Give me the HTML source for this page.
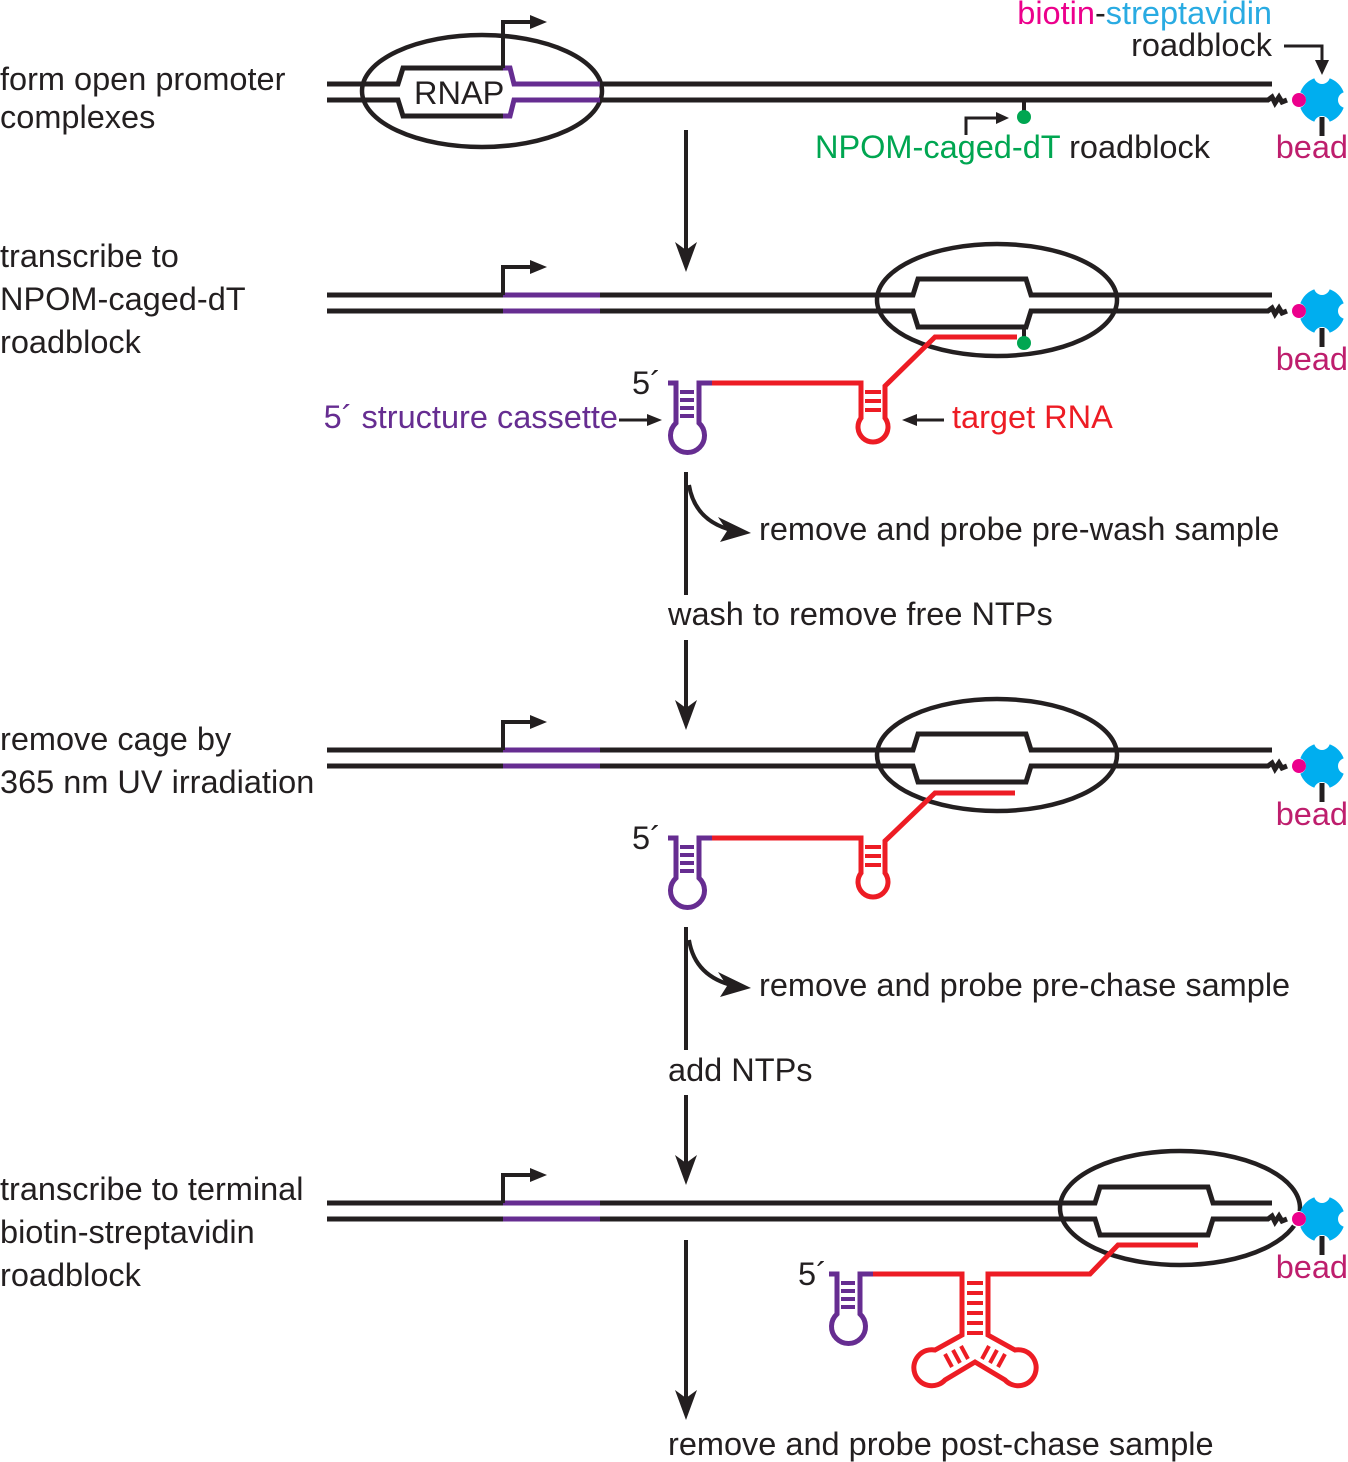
<!DOCTYPE html>
<html><head><meta charset="utf-8"><style>
html,body{margin:0;padding:0;background:#fff}
svg{display:block}
text{font-family:"Liberation Sans",Arial,sans-serif;font-size:32.5px;fill:#231f20}
</style></head><body>
<svg width="1348" height="1462" viewBox="0 0 1348 1462" xmlns="http://www.w3.org/2000/svg">
<defs>
<g id="bead">
 <circle cx="0" cy="0" r="23" fill="#00aeef"/>
 <circle cx="0" cy="-24" r="8" fill="#fff"/>
 <circle cx="24" cy="0" r="8" fill="#fff"/>
 <circle cx="0" cy="24" r="8" fill="#fff"/>
 <circle cx="-24" cy="0" r="8" fill="#fff"/>
 <circle cx="-23" cy="0" r="7" fill="#ec008c"/>
 <line x1="0" y1="17" x2="0" y2="36" stroke="#231f20" stroke-width="5"/>
</g>
<g id="hpP" fill="none" stroke="#662d91" stroke-width="5">
 <path d="M668,0 H676 V40 A17,17 0 1 0 699,40 V0 H712"/>
 <g stroke-width="4"><line x1="680" y1="9" x2="694" y2="9"/><line x1="680" y1="17" x2="694" y2="17"/><line x1="680" y1="25" x2="694" y2="25"/><line x1="680" y1="33" x2="694" y2="33"/></g>
</g>
</defs>

<g fill="none" stroke="#231f20" stroke-width="5">
<path d="M327,84 H398 L403,68 H503"/>
<path d="M327,100 H398 L403,116 H503"/>
<path d="M600,84 H1272"/>
<path d="M600,100 H1268 l4,-3 l3,6 l4,-6 l3,5 l5,-2"/>
<ellipse cx="482" cy="91" rx="120" ry="56" stroke-width="4.5"/>
</g>
<path d="M503,68 H510 L514,84 H600 M503,116 H510 L514,100 H600" fill="none" stroke="#662d91" stroke-width="5"/>
<path d="M503,68 V22 H535" fill="none" stroke="#231f20" stroke-width="4"/><path d="M530,15 L547,22 L530,29 Z" fill="#231f20"/>
<text x="414" y="104">RNAP</text>
<use href="#bead" x="1322" y="100"/>
<line x1="1024" y1="100" x2="1024" y2="117" stroke="#231f20" stroke-width="4"/><circle cx="1024" cy="117" r="7" fill="#00a651"/>
<path d="M966,135 V118 H1000" fill="none" stroke="#231f20" stroke-width="3"/><path d="M996,112 L1009,118 L996,124 Z" fill="#231f20"/>
<text x="1272" y="24" text-anchor="end"><tspan style="fill:#ec008c">biotin</tspan><tspan>-</tspan><tspan style="fill:#29abe2">streptavidin</tspan></text>
<text x="1272" y="56" text-anchor="end">roadblock</text>
<path d="M1284,46 H1322 V64" fill="none" stroke="#231f20" stroke-width="3"/><path d="M1315,60 L1322,75 L1329,60 Z" fill="#231f20"/>
<text x="1210" y="158" text-anchor="end"><tspan style="fill:#00a651">NPOM-caged-dT</tspan> roadblock</text>
<text x="1348" y="158" text-anchor="end" style="fill:#be1e6d">bead</text>
<text x="0" y="90">form open promoter</text>
<text x="0" y="128">complexes</text>
<line x1="686" y1="130" x2="686" y2="262" stroke="#231f20" stroke-width="4"/><path d="M675,242 L686,272 L697,242 L686,250 Z" fill="#231f20"/>

<!-- Panel 2 -->
<g fill="none" stroke="#231f20" stroke-width="5">
<path d="M327,295 H913 L918,279 H1026 L1031,295 H1272"/>
<path d="M327,311 H913 L918,327 H1026 L1031,311 H1268 l4,-3 l3,6 l4,-6 l3,5 l5,-2"/>
<ellipse cx="997" cy="300" rx="120" ry="56" stroke-width="4.5"/>
<line x1="1024" y1="327" x2="1024" y2="342" stroke-width="4"/>
</g>
<path d="M503,295 H600 M503,311 H600" stroke="#662d91" stroke-width="5"/>
<path d="M503,295 V267 H535" fill="none" stroke="#231f20" stroke-width="4"/><path d="M530,260 L547,267 L530,274 Z" fill="#231f20"/>
<use href="#bead" x="1322" y="311"/>
<circle cx="1024" cy="343" r="7" fill="#00a651"/>
<g fill="none" stroke="#ed1c24" stroke-width="5">
<path d="M1017,337 H935 L885,386 V418 A15,15 0 1 1 861,418 V383 H712"/>
<g stroke-width="4"><line x1="865" y1="392" x2="881" y2="392"/><line x1="865" y1="401" x2="881" y2="401"/><line x1="865" y1="410" x2="881" y2="410"/></g>
</g>
<use href="#hpP" x="0" y="383"/>
<text x="632" y="394">5´</text>
<text x="618" y="428" text-anchor="end" style="fill:#662d91">5´ structure cassette</text>
<line x1="619" y1="420" x2="650" y2="420" stroke="#231f20" stroke-width="3"/><path d="M647,414 L662,420 L647,426 Z" fill="#231f20"/>
<line x1="915" y1="420" x2="944" y2="420" stroke="#231f20" stroke-width="3"/><path d="M917,414 L902,420 L917,426 Z" fill="#231f20"/>
<text x="952" y="428" style="fill:#ed1c24">target RNA</text>
<text x="1348" y="370" text-anchor="end" style="fill:#be1e6d">bead</text>
<text x="0" y="267">transcribe to</text>
<text x="0" y="310">NPOM-caged-dT</text>
<text x="0" y="353">roadblock</text>

<line x1="686" y1="472" x2="686" y2="595" stroke="#231f20" stroke-width="4"/>
<path d="M689,485 Q695,522 735,531" fill="none" stroke="#231f20" stroke-width="4"/><path d="M718,517 L751,533 L720,542 L727,531 Z" fill="#231f20"/>
<text x="759" y="540">remove and probe pre-wash sample</text>
<text x="668" y="625">wash to remove free NTPs</text>
<line x1="686" y1="640" x2="686" y2="720" stroke="#231f20" stroke-width="4"/><path d="M675,700 L686,730 L697,700 L686,708 Z" fill="#231f20"/>

<!-- Panel 3 -->
<g fill="none" stroke="#231f20" stroke-width="5">
<path d="M327,750 H913 L918,734 H1026 L1031,750 H1272"/>
<path d="M327,766 H913 L918,782 H1026 L1031,766 H1268 l4,-3 l3,6 l4,-6 l3,5 l5,-2"/>
<ellipse cx="997" cy="755" rx="120" ry="56" stroke-width="4.5"/>
</g>
<path d="M503,750 H600 M503,766 H600" stroke="#662d91" stroke-width="5"/>
<path d="M503,750 V722 H535" fill="none" stroke="#231f20" stroke-width="4"/><path d="M530,715 L547,722 L530,729 Z" fill="#231f20"/>
<use href="#bead" x="1322" y="766"/>
<g fill="none" stroke="#ed1c24" stroke-width="5">
<path d="M1015,793 H935 L885,841 V873 A15,15 0 1 1 861,873 V838 H712"/>
<g stroke-width="4"><line x1="865" y1="847" x2="881" y2="847"/><line x1="865" y1="856" x2="881" y2="856"/><line x1="865" y1="865" x2="881" y2="865"/></g>
</g>
<use href="#hpP" x="0" y="838"/>
<text x="632" y="849">5´</text>
<text x="1348" y="825" text-anchor="end" style="fill:#be1e6d">bead</text>
<text x="0" y="750">remove cage by</text>
<text x="0" y="793">365 nm UV irradiation</text>

<line x1="686" y1="927" x2="686" y2="1050" stroke="#231f20" stroke-width="4"/>
<path d="M689,940 Q695,977 735,986" fill="none" stroke="#231f20" stroke-width="4"/><path d="M718,972 L751,988 L720,997 L727,986 Z" fill="#231f20"/>
<text x="759" y="996">remove and probe pre-chase sample</text>
<text x="668" y="1081">add NTPs</text>
<line x1="686" y1="1095" x2="686" y2="1175" stroke="#231f20" stroke-width="4"/><path d="M675,1155 L686,1185 L697,1155 L686,1163 Z" fill="#231f20"/>

<!-- Panel 4 -->
<g fill="none" stroke="#231f20" stroke-width="5">
<path d="M327,1203 H1095 L1100,1187 H1208 L1213,1203 H1272"/>
<path d="M327,1219 H1095 L1100,1235 H1208 L1213,1219 H1268 l4,-3 l3,6 l4,-6 l3,5 l5,-2"/>
<ellipse cx="1180" cy="1208" rx="120" ry="57" stroke-width="4.5"/>
</g>
<path d="M503,1203 H600 M503,1219 H600" stroke="#662d91" stroke-width="5"/>
<path d="M503,1203 V1175 H535" fill="none" stroke="#231f20" stroke-width="4"/><path d="M530,1168 L547,1175 L530,1182 Z" fill="#231f20"/>
<use href="#bead" x="1322" y="1219"/>
<g fill="none" stroke="#ed1c24" stroke-width="5">
<path d="M1198,1245 H1118 L1090,1274 H988 V1335 L1015,1350 A18,18 0 1 1 1005,1380 L980,1365 L975,1362 L970,1365 L945,1380 A18,18 0 1 1 935,1350 L962,1335 V1274 H872"/>
<g stroke-width="4">
<line x1="967" y1="1283" x2="983" y2="1283"/><line x1="967" y1="1293" x2="983" y2="1293"/><line x1="967" y1="1303" x2="983" y2="1303"/><line x1="967" y1="1313" x2="983" y2="1313"/><line x1="967" y1="1323" x2="983" y2="1323"/><line x1="967" y1="1333" x2="983" y2="1333"/>
<line x1="961" y1="1346" x2="968" y2="1359"/><line x1="953" y1="1350" x2="960" y2="1363"/><line x1="945" y1="1354" x2="952" y2="1367"/>
<line x1="989" y1="1346" x2="982" y2="1359"/><line x1="997" y1="1350" x2="990" y2="1363"/><line x1="1005" y1="1354" x2="998" y2="1367"/>
</g>
</g>
<use href="#hpP" x="161" y="1274"/>
<text x="798" y="1285">5´</text>
<text x="1348" y="1278" text-anchor="end" style="fill:#be1e6d">bead</text>
<text x="0" y="1200">transcribe to terminal</text>
<text x="0" y="1243">biotin-streptavidin</text>
<text x="0" y="1286">roadblock</text>
<line x1="686" y1="1240" x2="686" y2="1408" stroke="#231f20" stroke-width="4"/><path d="M675,1390 L686,1420 L697,1390 L686,1398 Z" fill="#231f20"/>
<text x="668" y="1455">remove and probe post-chase sample</text>
</svg>
</body></html>
